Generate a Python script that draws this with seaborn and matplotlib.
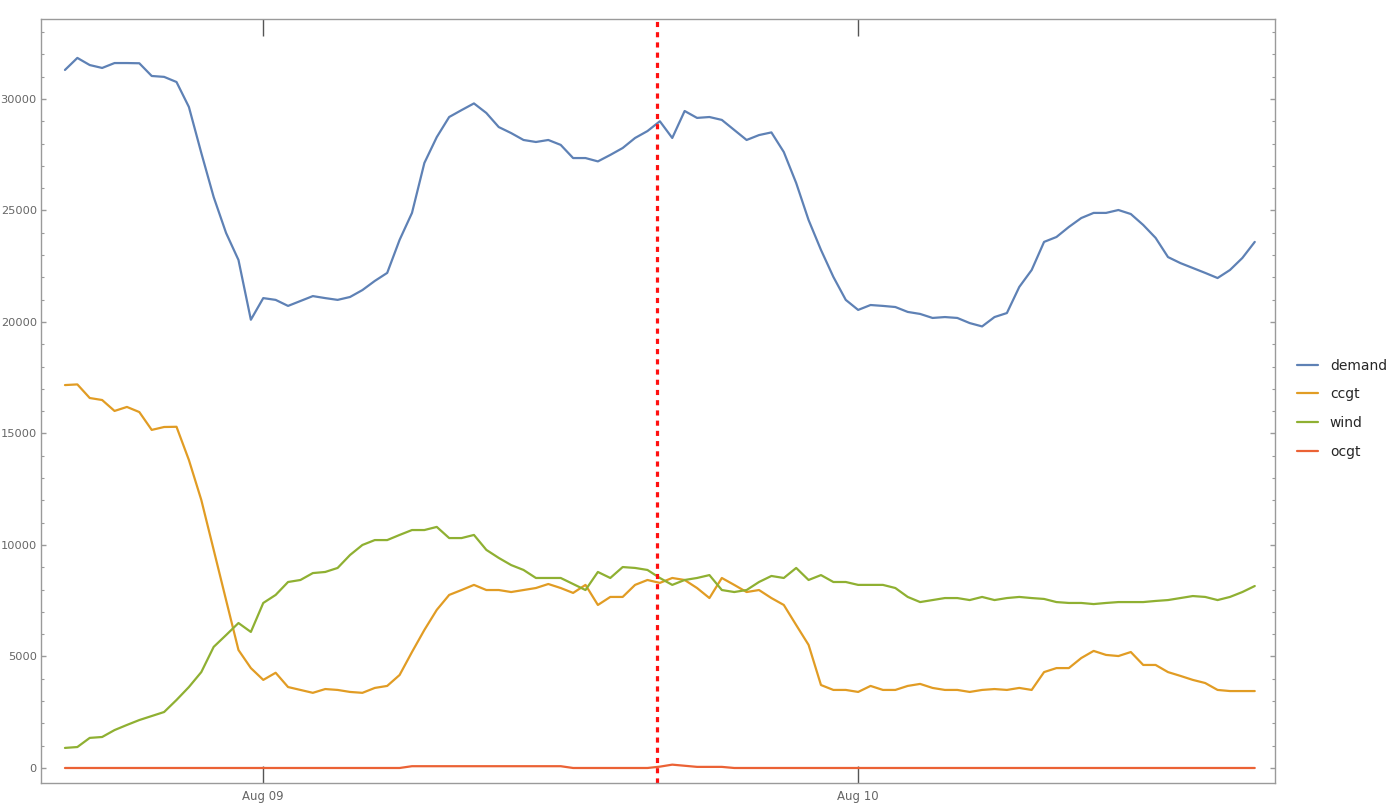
import numpy as np
import pandas as pd
import matplotlib
matplotlib.use("Agg")
import matplotlib.pyplot as plt
import matplotlib.dates as mdates
from matplotlib.ticker import MultipleLocator, FixedLocator, FixedFormatter
import seaborn as sns

# half-hourly readings, 2019-08-08 16:00 .. 2019-08-10 16:00 (UTC)
times = pd.date_range("2019-08-08 16:00", periods=97, freq="30min")

demand = [31300, 31840, 31520, 31390, 31610, 31610, 31600, 31030, 30990, 30760,
          29640, 27580, 25600, 23990, 22780, 20100, 21070, 20990, 20720, 20940,
          21160, 21070, 20990, 21120, 21430, 21840, 22200, 23680, 24890, 27130,
          28290, 29190, 29500, 29800, 29370, 28740, 28470, 28160, 28070, 28160,
          27940, 27350, 27350, 27200, 27490, 27800, 28250, 28560, 29000, 28250,
          29460, 29150, 29190, 29060, 28610, 28160, 28380, 28500, 27620, 26230,
          24570, 23230, 22020, 20990, 20540, 20760, 20720, 20670, 20450, 20360,
          20180, 20220, 20180, 19950, 19800, 20220, 20400, 21570, 22330, 23590,
          23810, 24260, 24660, 24890, 24890, 25020, 24840, 24350, 23770, 22910,
          22640, 22420, 22200, 21970, 22330, 22870, 23590]

ccgt = [17170, 17200, 16590, 16500, 16010, 16190, 15960, 15160, 15290, 15300,
        13810, 12020, 9780, 7530, 5290, 4480, 3950, 4270, 3630, 3500,
        3370, 3540, 3500, 3410, 3370, 3590, 3680, 4170, 5200, 6190,
        7090, 7760, 7980, 8210, 7980, 7980, 7890, 7980, 8070, 8250,
        8070, 7850, 8210, 7310, 7670, 7670, 8210, 8430, 8300, 8520,
        8430, 8070, 7620, 8520, 8210, 7890, 7980, 7620, 7310, 6410,
        5520, 3720, 3500, 3500, 3410, 3680, 3500, 3500, 3680, 3770,
        3590, 3500, 3500, 3410, 3500, 3540, 3500, 3590, 3500, 4300,
        4480, 4480, 4930, 5250, 5070, 5020, 5200, 4620, 4620, 4300,
        4130, 3950, 3810, 3500, 3450, 3450, 3450]

wind = [900, 940, 1350, 1390, 1700, 1930, 2150, 2330, 2510, 3050,
        3630, 4300, 5430, 5960, 6500, 6100, 7400, 7760, 8340, 8430,
        8740, 8790, 8970, 9550, 10000, 10220, 10220, 10450, 10670, 10670,
        10810, 10310, 10310, 10450, 9780, 9420, 9100, 8880, 8520, 8520,
        8520, 8250, 7980, 8790, 8520, 9010, 8970, 8880, 8520, 8210,
        8430, 8520, 8650, 7980, 7890, 7980, 8340, 8610, 8520, 8970,
        8430, 8650, 8340, 8340, 8210, 8210, 8210, 8070, 7670, 7440,
        7530, 7620, 7620, 7530, 7670, 7530, 7620, 7670, 7620, 7580,
        7440, 7400, 7400, 7350, 7400, 7440, 7440, 7440, 7490, 7530,
        7620, 7710, 7670, 7530, 7670, 7890, 8160]

ocgt = [0] * 28 + [80] * 13 + [0] * 7 + [60, 150, 100, 50, 50, 50] + [0] * 43

series_names = ["demand", "ccgt", "wind", "ocgt"]
colors = ["#5E81B5", "#E19C24", "#8FB032", "#EB6235"]
event_time = pd.Timestamp("2019-08-09 15:52")

df = pd.DataFrame({"time": times, "demand": demand, "ccgt": ccgt,
                   "wind": wind, "ocgt": ocgt})
long_df = df.melt(id_vars="time", var_name="series", value_name="MW")

sns.set_style("white")
plt.rcParams["font.family"] = ["DejaVu Sans"]

fig = plt.figure(figsize=(13.92, 8.07), dpi=100)
ax = fig.add_axes([41 / 1392, 1 - 783 / 807, 1234 / 1392, 764 / 807])

sns.lineplot(data=long_df, x="time", y="MW", hue="series",
             hue_order=series_names, palette=dict(zip(series_names, colors)),
             linewidth=1.6, ax=ax)

ax.axvline(event_time, color="#FF1010", linewidth=2.3, linestyle=(0, (1.6, 1.6)))

ax.set_xlim(pd.Timestamp("2019-08-08 15:02"), pd.Timestamp("2019-08-10 16:49"))
ax.set_ylim(-673, 33585)
ax.set_xlabel("")
ax.set_ylabel("")

# frame and ticks, Mathematica-ish
for sp in ax.spines.values():
    sp.set_color("#9a9a9a")
    sp.set_linewidth(1.0)

ax.xaxis.set_major_locator(mdates.DayLocator())
ax.xaxis.set_major_formatter(mdates.DateFormatter("%b %d"))
ax.tick_params(axis="x", which="major", direction="in", length=12, width=1,
               top=True, bottom=True, color="#555555", labelcolor="#666666",
               labelsize=8.5, pad=5)

yticks = [0, 5000, 10000, 15000, 20000, 25000, 30000]
ylabels = ["0", "5000", "10000", "15000", "20000", "25000", "30000"]
ax.yaxis.set_major_locator(FixedLocator(yticks))
ax.yaxis.set_major_formatter(FixedFormatter(ylabels))
ax.yaxis.set_minor_locator(MultipleLocator(1000))
ax.tick_params(axis="y", which="major", direction="in", length=3.8, width=1,
               left=True, right=True, color="#9a9a9a", labelcolor="#666666",
               labelsize=8.2, pad=3)
ax.tick_params(axis="y", which="minor", direction="in", length=2, width=0.8,
               left=True, right=True, color="#9a9a9a")

sns.move_legend(ax, "center left", bbox_to_anchor=(1.018, 0.49), frameon=False,
                title=None, fontsize=10, handlelength=1.5, handletextpad=0.85,
                labelspacing=1.05, borderpad=0, borderaxespad=0)

fig.savefig("out.png", dpi=100)
